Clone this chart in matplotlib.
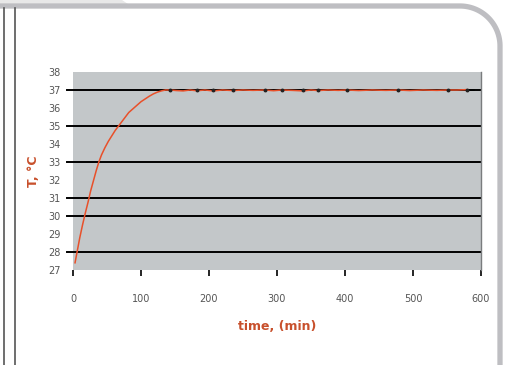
import matplotlib
matplotlib.use("Agg")
import matplotlib.pyplot as plt
from matplotlib.patches import Polygon
from matplotlib.lines import Line2D
import numpy as np

# Temperature reading over time
time_min = [3, 6, 10, 14, 18, 22, 26, 30, 34, 38, 42, 47, 52, 57, 62, 67, 72,
            77, 82, 88, 94, 100, 106, 112, 118, 124, 130, 136, 143, 152, 162,
            172, 182, 194, 206, 220, 235, 250, 265, 282, 295, 307, 322, 338,
            350, 360, 375, 390, 403, 420, 440, 460, 478, 495, 515, 535, 551,
            565, 579]
temp_c = [27.4, 28.0, 28.8, 29.5, 30.15, 30.75, 31.4, 31.95, 32.5, 33.0, 33.4,
          33.8, 34.15, 34.45, 34.75, 35.0, 35.25, 35.5, 35.75, 35.95, 36.15,
          36.35, 36.5, 36.65, 36.78, 36.88, 36.95, 37.0, 37.0, 36.97, 36.95,
          37.0, 36.96, 37.0, 36.95, 37.0, 36.97, 37.0, 36.98, 37.0, 36.96,
          37.0, 36.98, 36.95, 37.0, 36.97, 37.0, 36.98, 37.0, 36.97, 37.0,
          36.98, 37.0, 36.97, 37.0, 36.98, 37.0, 37.0, 37.02]

# Individually marked readings on the plateau
marked_t = [143, 182, 206, 235, 282, 307, 338, 360, 403, 478, 551, 579]
marked_T = [37.0, 37.0, 37.0, 37.0, 37.0, 37.0, 37.0, 37.0, 37.0, 37.0, 37.0, 37.0]

y_ticks = list(range(27, 39))
grid_levels = [28, 30, 31, 33, 35, 37]
x_ticks = [0, 100, 200, 300, 400, 500, 600]

W, H = 510, 365
fig = plt.figure(figsize=(W / 100, H / 100), dpi=100)
fig.patch.set_facecolor("white")

# Page frame drawn in pixel coordinates
frame = fig.add_axes([0, 0, 1, 1])
frame.set_xlim(0, W)
frame.set_ylim(H, 0)
frame.axis("off")
frame.add_patch(Polygon([[0, 0], [122, 0], [128, 4], [0, 4]], closed=True,
                        facecolor="#e8e8e8", edgecolor="none"))
theta = np.linspace(-np.pi / 2, 0, 40)
r = 40
cx, cy = 460, 46
arc_x = cx + r * np.cos(theta)
arc_y = cy + r * np.sin(theta)
px = np.concatenate([[0], arc_x, [500]])
py = np.concatenate([[6], arc_y, [H]])
frame.plot(px, py, color="#bebec2", lw=3.8, solid_capstyle="butt")
frame.add_line(Line2D([4, 4], [8, H], color="#555555", lw=1.2))
frame.add_line(Line2D([15, 15], [8, H], color="#555555", lw=1.2))

red = "#e8502a"
label_red = "#c8502c"

ax = fig.add_axes([73 / W, (H - 270) / H, (481 - 73) / W, (270 - 72) / H])
ax.set_facecolor("#c3c7c9")
ax.set_xlim(0, 600)
ax.set_ylim(27, 38)
for s in ["top", "left", "bottom"]:
    ax.spines[s].set_visible(False)
ax.spines["right"].set_color("#7a7c7e")
ax.spines["right"].set_linewidth(1.0)

ytr = ax.get_yaxis_transform()
for g in grid_levels:
    ax.plot([-0.014, 1.0], [g, g], transform=ytr, color="black", lw=1.4,
            clip_on=False, zorder=1)

ax.plot(time_min, temp_c, color=red, lw=1.1, zorder=3)
ax.plot(marked_t, marked_T, linestyle="none", marker="o", ms=1.8,
        color="#222222", zorder=4)
ax.plot([579, 590], [37, 37], color="black", lw=1.2, zorder=3)

ax.set_yticks(y_ticks)
ax.set_yticklabels([str(v) for v in y_ticks])
ax.set_xticks(x_ticks)
ax.set_xticklabels([str(v) for v in x_ticks])
ax.tick_params(axis="y", length=0, pad=9, labelsize=7, labelcolor="#555555")
ax.tick_params(axis="x", length=4, width=1.2, direction="out", pad=13,
               labelsize=7, labelcolor="#555555", color="black")
for lab in ax.get_xticklabels() + ax.get_yticklabels():
    lab.set_family(["Liberation Sans Narrow", "DejaVu Sans"])

ax.set_xlabel("time, (min)", color=label_red, fontsize=9, fontweight="bold",
              labelpad=12)
ax.set_ylabel("T, °C", color=label_red, fontsize=9, fontweight="bold",
              labelpad=6)

fig.savefig("out.png", dpi=100, facecolor="white")
